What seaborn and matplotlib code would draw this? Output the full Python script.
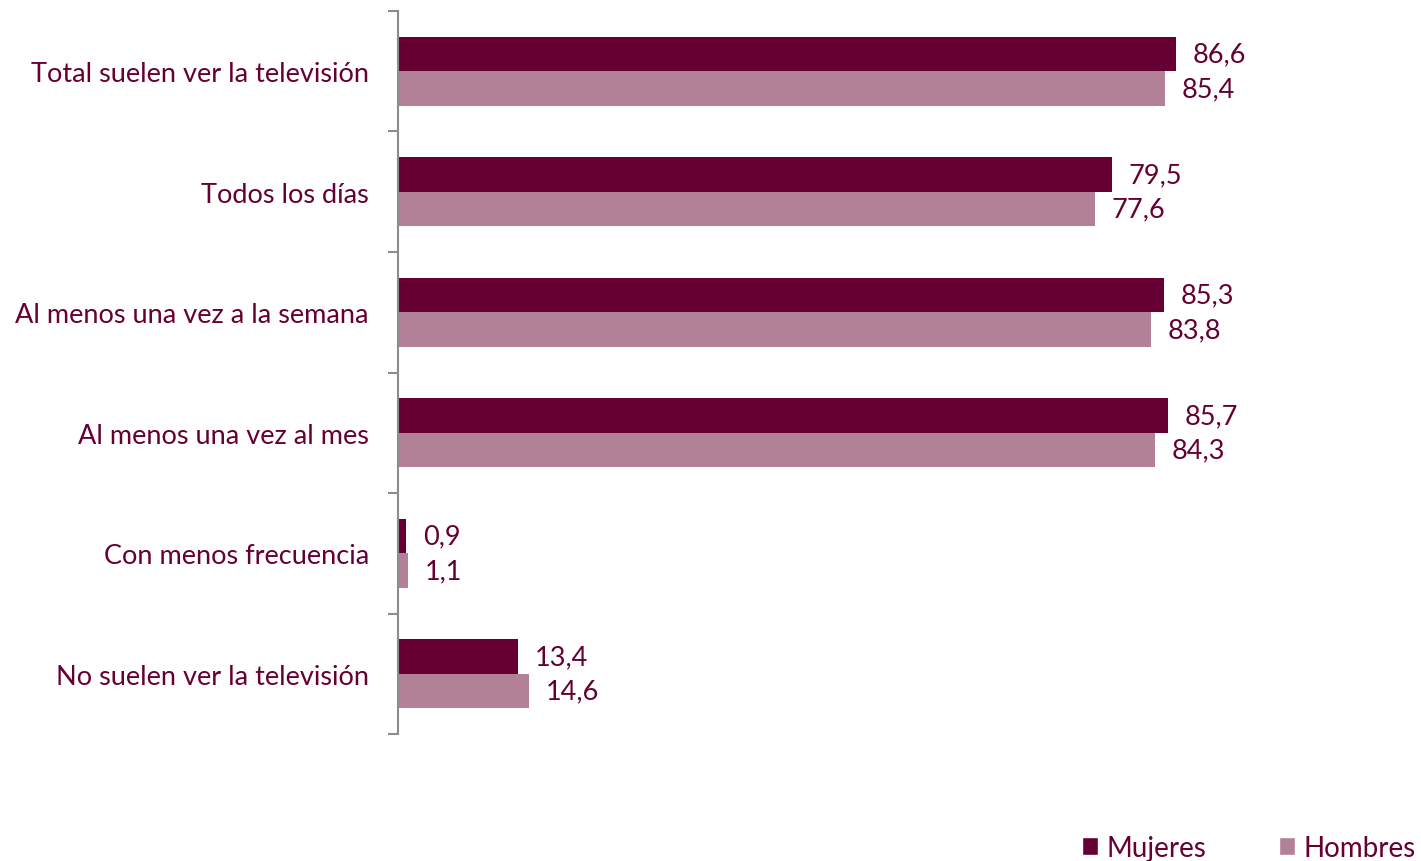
import seaborn as sns
import matplotlib.pyplot as plt
from matplotlib.patches import Patch
import pandas as pd
import numpy as np

categorias = ["Total suelen ver la televisión", "Todos los días", "Al menos una vez a la semana",
              "Al menos una vez al mes", "Con menos frecuencia", "No suelen ver la televisión"]
mujeres = [86.6, 79.5, 85.3, 85.7, 0.9, 13.4]
hombres = [85.4, 77.6, 83.8, 84.3, 1.1, 14.6]
series = ["Mujeres", "Hombres"]

df = pd.DataFrame({
    "categoria": categorias * 2,
    "valor": mujeres + hombres,
    "sexo": ["Mujeres"] * len(categorias) + ["Hombres"] * len(categorias),
})

palette = {"Mujeres": "#660033", "Hombres": "#B28097"}
txt_color = "#660033"
axis_gray = "#8c8c8c"

sns.set_style("white")
plt.rcParams['font.family'] = ['Lato', 'DejaVu Sans']

fig = plt.figure(figsize=(14.21, 8.62), dpi=100)
ax = fig.add_axes([0.2801, 0.1473, 0.632, 0.8388])

sns.barplot(data=df, y="categoria", x="valor", hue="sexo", hue_order=series,
            order=categorias, palette=palette, orient="h", width=0.57,
            saturation=1, linewidth=0, ax=ax, legend=False)

for cont in ax.containers:
    labels = [f"{b.get_width():.1f}".replace(".", ",") for b in cont]
    ax.bar_label(cont, labels=labels, padding=12, fontsize=19.5, color=txt_color)

ax.set_xlim(0, 100)
ax.set_ylim(5.5, -0.5)
ax.set_xlabel("")
ax.set_ylabel("")
ax.set_xticks([])
ax.set_yticks(range(len(categorias)))
ax.set_yticklabels(categorias, fontsize=19.5, color=txt_color)
ax.tick_params(axis="y", which="major", left=False, length=0, pad=21)
ax.set_yticks(np.arange(-0.5, len(categorias)), minor=True)
ax.tick_params(axis="y", which="minor", left=True, length=7, width=1.5,
               color=axis_gray, direction="out")

for s in ["top", "right", "bottom"]:
    ax.spines[s].set_visible(False)
ax.spines["left"].set_color(axis_gray)
ax.spines["left"].set_linewidth(1.5)

handles = [Patch(facecolor=palette[s], label=s) for s in series]
leg = fig.legend(handles=handles, loc="lower right", bbox_to_anchor=(1.014, -0.029), ncol=2,
                 frameon=False, fontsize=20, handlelength=0.6, handleheight=0.6,
                 handletextpad=0.3, columnspacing=2.6)
for t in leg.get_texts():
    t.set_color(txt_color)

fig.savefig("out.png", dpi=100)
